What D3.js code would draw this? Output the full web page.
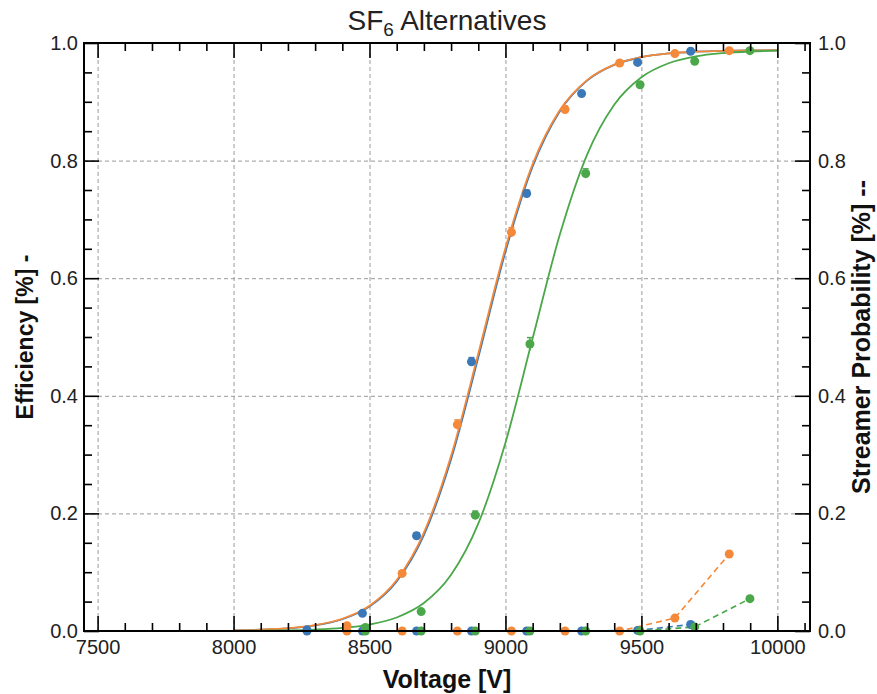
<!DOCTYPE html>
<html>
<head>
<meta charset="utf-8">
<script src="https://cdn.jsdelivr.net/npm/d3@7"></script>
<style>
  body { margin: 0; background: #fff; }
  text { font-family: "Liberation Sans", Arial, Helvetica, sans-serif; }
  .grid line { stroke: #9a9a9a; stroke-dasharray: 4,3; stroke-width: 1; }
  .grid path { display: none; }
  .axis path { display: none; }
  .axis line { stroke: #000; stroke-width: 1.6; }
  .axis text { font-size: 20px; fill: #222; }
</style>
</head>
<body>
<div id="chart"></div>
<script>
const WIDTH = 877;
const HEIGHT = 694;
const MARGIN = {top: 43, right: 67, bottom: 63, left: 84};

// measured points (voltage, efficiency, streamer probability, efficiency error)
const blueVoltage   = [8270, 8474, 8673, 8875, 9078, 9280, 9486, 9681];
const blueEff       = [0.002, 0.030, 0.162, 0.458, 0.744, 0.914, 0.967, 0.986];
const blueStreamer  = [0.0, 0.0, 0.0, 0.0, 0.0, 0.0, 0.001, 0.011];
const blueErr       = [0.001, 0.003, 0.005, 0.007, 0.006, 0.004, 0.003, 0.002];

const orangeVoltage  = [8417, 8620, 8823, 9022, 9219, 9420, 9623, 9823];
const orangeEff      = [0.009, 0.098, 0.351, 0.678, 0.887, 0.966, 0.982, 0.987];
const orangeStreamer = [0.0, 0.0, 0.0, 0.0, 0.0, 0.0, 0.022, 0.131];
const orangeErr      = [0.002, 0.004, 0.008, 0.008, 0.006, 0.004, 0.003, 0.002];

const greenVoltage  = [8485, 8690, 8889, 9090, 9295, 9495, 9696, 9899];
const greenEff      = [0.006, 0.033, 0.197, 0.488, 0.778, 0.929, 0.969, 0.987];
const greenStreamer = [0.0, 0.0, 0.0, 0.0, 0.0, 0.0, 0.007, 0.055];
const greenErr      = [0.002, 0.003, 0.007, 0.011, 0.008, 0.005, 0.003, 0.002];

// fitted efficiency curves, every 100 V
const fitVoltage = [8000, 8100, 8200, 8300, 8400, 8500, 8600, 8700, 8800, 8900, 9000,
                    9100, 9200, 9300, 9400, 9500, 9600, 9700, 9800, 9900, 10000];
const blueFit   = [0.0010, 0.0021, 0.0045, 0.0095, 0.0200, 0.0415, 0.0842, 0.1630, 0.2920, 0.4650, 0.6450,
                   0.7900, 0.8840, 0.9360, 0.9628, 0.9759, 0.9823, 0.9852, 0.9866, 0.9873, 0.9877];
const orangeFit = [0.0011, 0.0022, 0.0047, 0.0099, 0.0208, 0.0430, 0.0868, 0.1674, 0.2979, 0.4718, 0.6513,
                   0.7942, 0.8859, 0.9369, 0.9632, 0.9761, 0.9824, 0.9853, 0.9867, 0.9874, 0.9877];
const greenFit  = [0.0003, 0.0006, 0.0012, 0.0025, 0.0052, 0.0110, 0.0230, 0.0475, 0.0955, 0.1825, 0.3203,
                   0.4977, 0.6743, 0.8099, 0.8951, 0.9418, 0.9656, 0.9773, 0.9829, 0.9856, 0.9869];

const xMajorTicks = [7500, 8000, 8500, 9000, 9500, 10000];
const yMajorTicks = [0.0, 0.2, 0.4, 0.6, 0.8, 1.0];

const series = [
    {name: "blue",   color: "#3b78b7", volt: blueVoltage,   eff: blueEff,   str: blueStreamer,   err: blueErr,   fit: blueFit},
    {name: "orange", color: "#f5893a", volt: orangeVoltage, eff: orangeEff, str: orangeStreamer, err: orangeErr, fit: orangeFit},
    {name: "green",  color: "#4aa84a", volt: greenVoltage,  eff: greenEff,  str: greenStreamer,  err: greenErr,  fit: greenFit}
];

const w = WIDTH - MARGIN.left - MARGIN.right;
const h = HEIGHT - MARGIN.top - MARGIN.bottom;

const svg = d3.select("#chart").append("svg")
    .attr("width", WIDTH)
    .attr("height", HEIGHT);

const g = svg.append("g")
    .attr("transform", "translate(" + MARGIN.left + "," + MARGIN.top + ")");

const x = d3.scaleLinear().domain([7450, 10120]).range([0, w]);
const y = d3.scaleLinear().domain([0, 1]).range([h, 0]);

const xMinor = d3.range(7500, 10101, 100).filter(v => v % 500 !== 0);
const yMinor = d3.range(0, 1.001, 0.05).filter(v => Math.round(v * 100) % 20 !== 0);

// grid
g.append("g").attr("class", "grid")
    .attr("transform", "translate(0," + h + ")")
    .call(d3.axisBottom(x).tickValues(xMajorTicks).tickSize(-h).tickFormat(""));
g.append("g").attr("class", "grid")
    .call(d3.axisLeft(y).tickValues([0.2, 0.4, 0.6, 0.8]).tickSize(-w).tickFormat(""));

// fit curves
const fitLine = d3.line().x(d => x(d[0])).y(d => y(d[1])).curve(d3.curveMonotoneX);
series.forEach(s => {
    g.append("path")
        .datum(fitVoltage.map((v, i) => [v, s.fit[i]]))
        .attr("fill", "none")
        .attr("stroke", s.color)
        .attr("stroke-width", 1.8)
        .attr("d", fitLine);
});

// streamer probability (dashed)
const strLine = d3.line().x(d => x(d[0])).y(d => y(d[1]));
series.forEach(s => {
    g.append("path")
        .datum(s.volt.map((v, i) => [v, s.str[i]]))
        .attr("fill", "none")
        .attr("stroke", s.color)
        .attr("stroke-width", 1.6)
        .attr("stroke-dasharray", "6,4")
        .attr("d", strLine);
});

// points with error bars
series.forEach(s => {
    const pts = g.append("g").attr("class", "pts-" + s.name);
    const data = s.volt.map((v, i) => ({v: v, e: s.eff[i], err: s.err[i], st: s.str[i]}));
    pts.selectAll("line.err").data(data).join("line")
        .attr("class", "err")
        .attr("x1", d => x(d.v)).attr("x2", d => x(d.v))
        .attr("y1", d => y(d.e - d.err)).attr("y2", d => y(d.e + d.err))
        .attr("stroke", s.color).attr("stroke-width", 1.5);
    pts.selectAll("line.cap").data(data).join("line")
        .attr("class", "cap")
        .attr("x1", d => x(d.v) - 3).attr("x2", d => x(d.v) + 3)
        .attr("y1", d => y(d.e + d.err)).attr("y2", d => y(d.e + d.err))
        .attr("stroke", s.color).attr("stroke-width", 1.5);
    pts.selectAll("circle.eff").data(data).join("circle")
        .attr("class", "eff")
        .attr("cx", d => x(d.v)).attr("cy", d => y(d.e))
        .attr("r", 4.5).attr("fill", s.color);
    pts.selectAll("circle.str").data(data).join("circle")
        .attr("class", "str")
        .attr("cx", d => x(d.v)).attr("cy", d => y(d.st))
        .attr("r", 4.5).attr("fill", s.color);
});

// axes: major + minor ticks, pointing inward on all four sides
function drawAxis(axisFn, scale, major, minor, transform, fmt, pad) {
    g.append("g").attr("class", "axis")
        .attr("transform", transform)
        .call(axisFn(scale).tickValues(minor).tickSize(-8).tickFormat(""));
    g.append("g").attr("class", "axis")
        .attr("transform", transform)
        .call(axisFn(scale).tickValues(major).tickSize(-15).tickPadding(pad).tickFormat(fmt));
}
drawAxis(d3.axisBottom, x, xMajorTicks, xMinor, "translate(0," + h + ")", d3.format("d"), 9);
drawAxis(d3.axisTop, x, xMajorTicks, xMinor, "translate(0,0)", "", 6);
drawAxis(d3.axisLeft, y, yMajorTicks, yMinor, "translate(0,0)", d3.format(".1f"), 6);
drawAxis(d3.axisRight, y, yMajorTicks, yMinor, "translate(" + w + ",0)", d3.format(".1f"), 8);

g.append("rect")
    .attr("width", w).attr("height", h)
    .attr("fill", "none").attr("stroke", "#000").attr("stroke-width", 2);

// titles
const title = svg.append("text")
    .attr("x", MARGIN.left + w / 2).attr("y", 30)
    .attr("text-anchor", "middle")
    .attr("font-size", 28).attr("fill", "#222");
title.append("tspan").text("SF");
title.append("tspan").attr("dy", 6).attr("font-size", 19).text("6");
title.append("tspan").attr("dy", -6).text(" Alternatives");

svg.append("text")
    .attr("x", MARGIN.left + w / 2).attr("y", 688)
    .attr("text-anchor", "middle")
    .attr("font-size", 25).attr("font-weight", "bold").attr("fill", "#111")
    .text("Voltage [V]");

svg.append("text")
    .attr("transform", "translate(33," + (MARGIN.top + h / 2) + ") rotate(-90)")
    .attr("text-anchor", "middle")
    .attr("font-size", 23).attr("font-weight", "bold").attr("fill", "#111")
    .text("Efficiency [%] -");

svg.append("text")
    .attr("transform", "translate(870," + (MARGIN.top + h / 2) + ") rotate(-90)")
    .attr("text-anchor", "middle")
    .attr("font-size", 25).attr("font-weight", "bold").attr("fill", "#111")
    .text("Streamer Probability [%] --");
</script>
</body>
</html>
